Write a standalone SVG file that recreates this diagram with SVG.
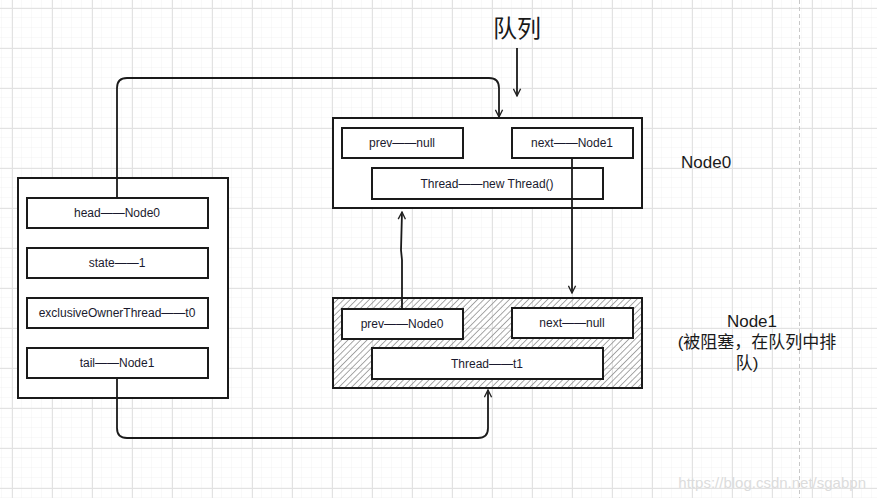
<svg xmlns="http://www.w3.org/2000/svg" width="877" height="498" viewBox="0 0 877 498">
<defs>
<pattern id="minor" width="10" height="10" patternUnits="userSpaceOnUse" x="2" y="-2">
<path d="M10 0V10M0 10H10" fill="none" stroke="#f2f2f2" stroke-width="1"/>
</pattern>
<pattern id="major" width="40" height="40" patternUnits="userSpaceOnUse" x="12" y="8">
<path d="M0.5 0V40M0 0.5H40" fill="none" stroke="#e2e2e2" stroke-width="1"/>
</pattern>
<pattern id="hatch" width="4.5" height="4.5" patternUnits="userSpaceOnUse" patternTransform="rotate(45)">
<line x1="0" y1="0" x2="0" y2="4.5" stroke="#8c8c8c" stroke-width="1.5"/>
</pattern>
<marker id="arr" viewBox="0 0 10 10" refX="9" refY="5" markerWidth="9" markerHeight="9" orient="auto" markerUnits="userSpaceOnUse">
<path d="M1 1L9 5L1 9" fill="none" stroke="#222" stroke-width="1.5"/>
</marker>
</defs>
<style>
.box{fill:#fff;stroke:#1a1a1a;stroke-width:2}
.hbox{fill:url(#hatch);stroke:#1a1a1a;stroke-width:2}
.t{font-family:"Liberation Sans",Arial,sans-serif;font-size:12px;fill:#1a1a2e;text-anchor:middle}
.lbl{font-family:"Liberation Sans","Noto Sans CJK SC",sans-serif;font-size:17px;fill:#1a1a1a}
.c{fill:none;stroke:#1a1a1a;stroke-width:1.8}
</style>
<rect width="877" height="498" fill="#fff"/>
<rect width="877" height="498" fill="url(#minor)"/>
<rect width="877" height="498" fill="url(#major)"/>
<line x1="799.5" y1="0" x2="799.5" y2="498" stroke="#c8c8c8" stroke-width="1" stroke-dasharray="4,3"/>

<g id="title">
<text x="517" y="37" font-family="'Noto Sans CJK SC',sans-serif" font-size="24" text-anchor="middle" fill="#1a1a1a">队列</text>
</g>

<g id="aqs">
<rect class="box" x="18" y="178" width="210" height="220"/>
<rect class="box" x="27" y="198" width="181" height="30"/>
<text class="t" x="117" y="217">head——Node0</text>
<rect class="box" x="27" y="248" width="181" height="30"/>
<text class="t" x="117" y="267">state——1</text>
<rect class="box" x="27" y="298" width="181" height="30"/>
<text class="t" x="117" y="317">exclusiveOwnerThread——t0</text>
<rect class="box" x="27" y="348" width="181" height="30"/>
<text class="t" x="117" y="367">tail——Node1</text>
</g>

<g id="node0">
<rect class="box" x="333" y="118" width="309" height="90"/>
<rect class="box" x="342" y="128" width="121" height="30"/>
<text class="t" x="402" y="147">prev——null</text>
<rect class="box" x="512" y="128" width="121" height="30"/>
<text class="t" x="572" y="147">next——Node1</text>
<rect class="box" x="372" y="168" width="231" height="31"/>
<text class="t" x="487" y="188">Thread——new Thread()</text>
<text class="lbl" x="681" y="168">Node0</text>
</g>

<g id="node1">
<rect class="hbox" x="333" y="298" width="309" height="90"/>
<rect class="box" x="342" y="309" width="121" height="30"/>
<text class="t" x="402" y="328">prev——Node0</text>
<rect class="box" x="512" y="308" width="121" height="30"/>
<text class="t" x="572" y="327">next——null</text>
<rect class="box" x="372" y="348" width="231" height="31"/>
<text class="t" x="487" y="368">Thread——t1</text>
<text class="lbl" x="752" y="327" text-anchor="middle">Node1</text>
<text class="lbl" x="757" y="348" text-anchor="middle">(被阻塞，在队列中排</text>
<text class="lbl" x="747" y="369" text-anchor="middle">队)</text>
</g>

<g id="connectors">
<path class="c" d="M517 48 L517 96" marker-end="url(#arr)"/>
<path class="c" d="M117 198 L117 88 Q117 78 127 78 L489 78 Q499 78 499 88 L499 117" marker-end="url(#arr)"/>
<path class="c" d="M572 158 L572 293" marker-end="url(#arr)"/>
<path class="c" d="M402 309 L402 260 L401 250 L402 212" marker-end="url(#arr)"/>
<path class="c" d="M117 379 L117 428 Q117 438 127 438 L478 438 Q488 438 488 428 L488 390" marker-end="url(#arr)"/>
</g>

<text x="866" y="488" font-family="'Liberation Sans',Arial,sans-serif" font-size="15" text-anchor="end" fill="#dcdcdc">https://blog.csdn.net/sgabpn</text>
</svg>
